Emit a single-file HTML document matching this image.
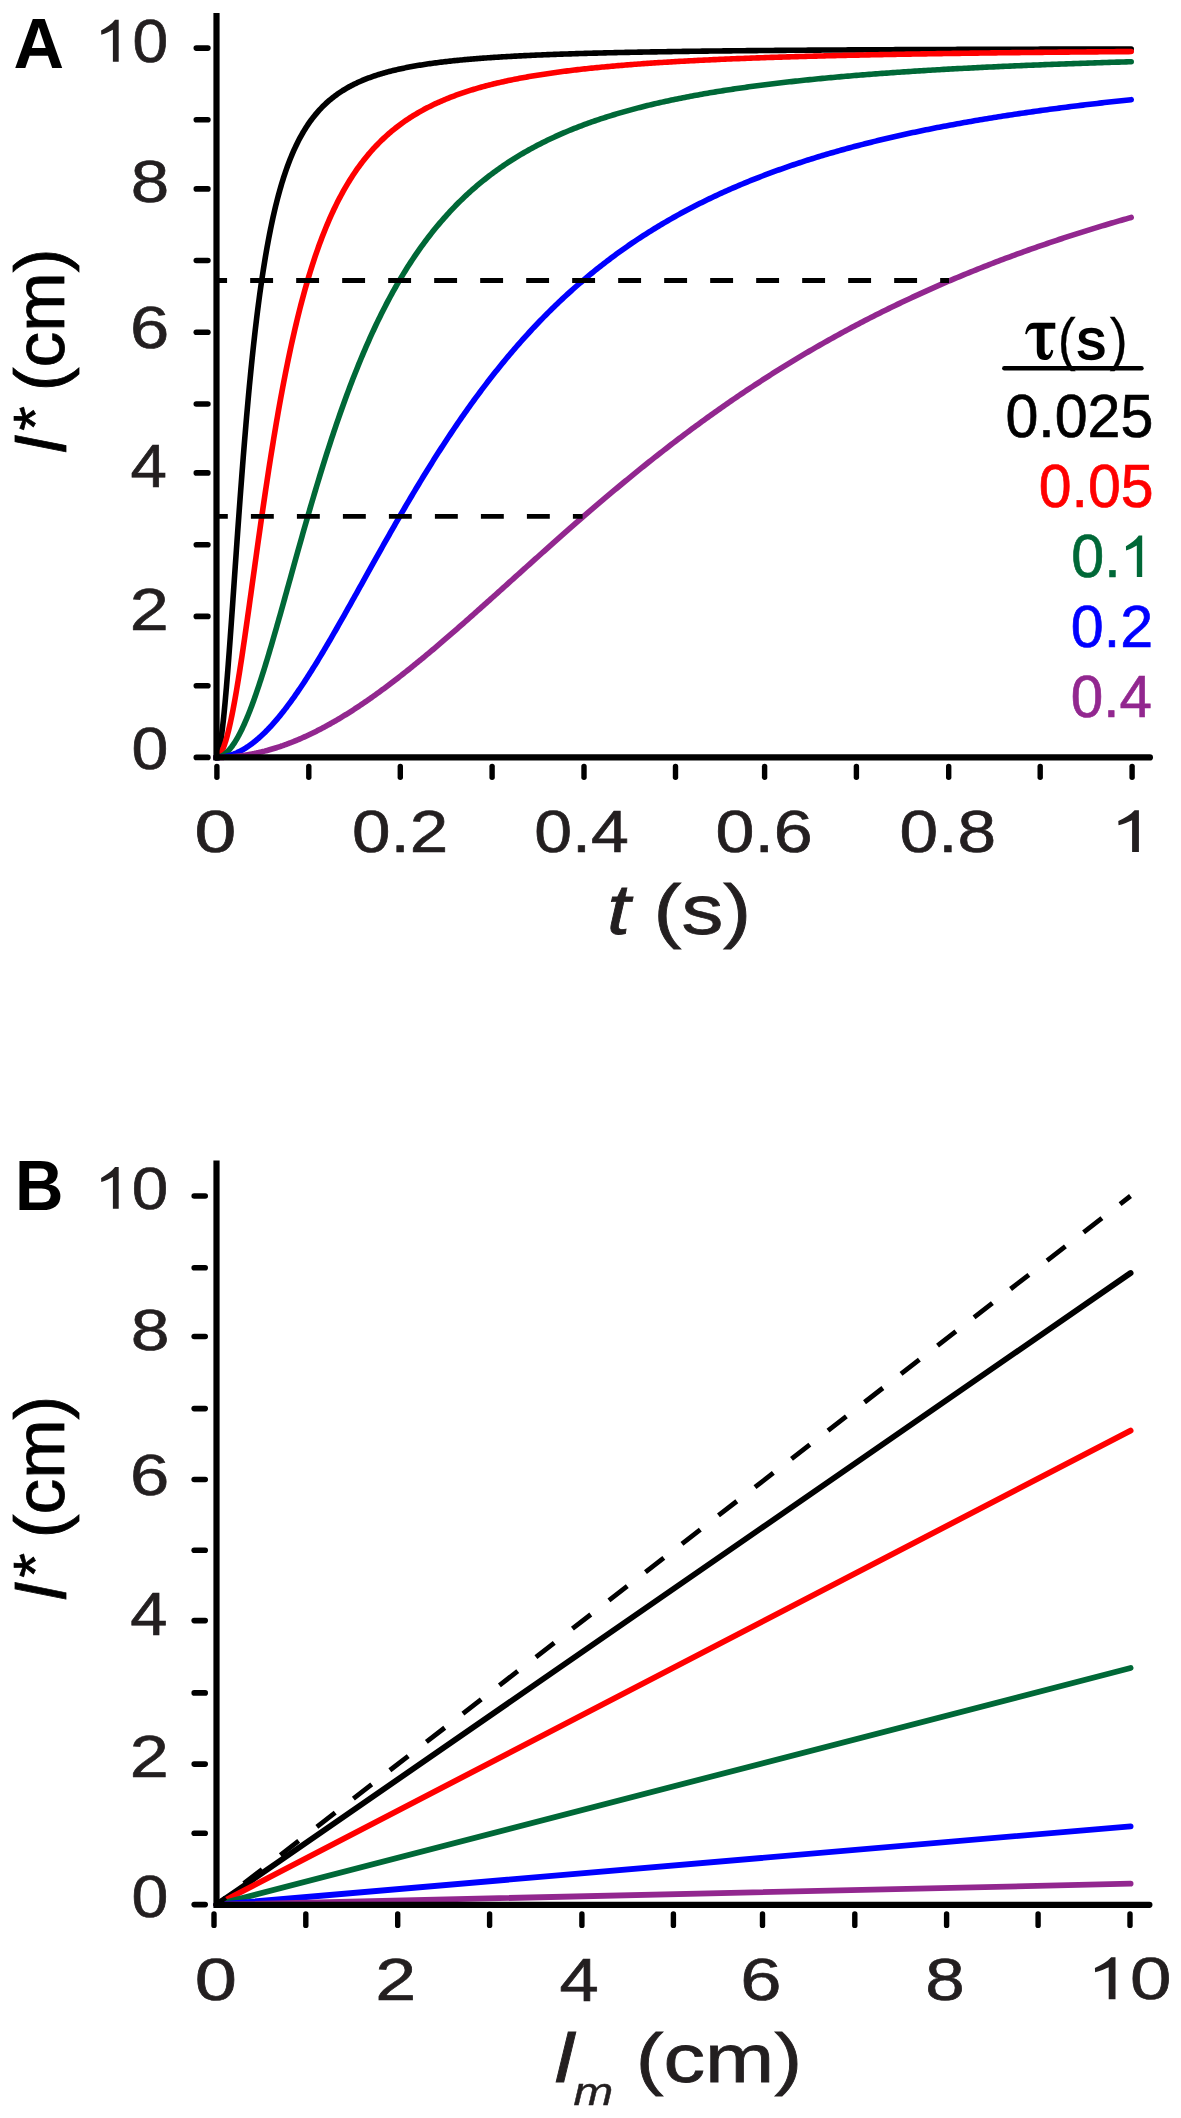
<!DOCTYPE html>
<html><head><meta charset="utf-8"><style>
html,body{margin:0;padding:0;background:#fff;}
svg{display:block;font-family:"Liberation Sans",sans-serif;will-change:transform;}
</style></head><body>
<svg width="1181" height="2118" viewBox="0 0 1181 2118">
<rect width="1181" height="2118" fill="#fff"/>
<polyline points="215.80,757.50 215.83,757.50 215.90,757.49 215.99,757.47 216.10,757.44 216.23,757.37 216.38,757.27 216.54,757.12 216.72,756.92 216.90,756.66 217.11,756.32 217.32,755.90 217.55,755.39 217.79,754.77 218.04,754.05 218.30,753.20 218.57,752.22 218.86,751.10 219.15,749.83 219.45,748.40 219.76,746.80 220.09,745.02 220.42,743.06 220.76,740.91 221.11,738.55 221.47,735.99 221.83,733.21 222.21,730.21 222.59,726.99 222.98,723.53 223.39,719.85 223.79,715.93 224.21,711.77 224.63,707.37 225.07,702.73 225.51,697.86 225.95,692.75 226.41,687.40 226.87,681.82 227.34,676.01 227.82,669.99 228.30,663.74 228.79,657.29 229.29,650.63 229.80,643.78 230.31,636.74 230.83,629.53 231.36,622.15 231.89,614.62 232.43,606.94 232.98,599.13 233.53,591.20 234.09,583.16 234.65,575.02 235.23,566.80 235.81,558.50 236.39,550.14 236.98,541.73 237.58,533.29 238.18,524.82 238.79,516.33 239.41,507.84 240.03,499.36 240.66,490.89 241.30,482.46 241.94,474.06 242.58,465.70 243.23,457.40 243.89,449.16 244.56,441.00 245.23,432.91 245.90,424.90 246.58,416.99 247.27,409.16 247.96,401.44 248.66,393.83 249.36,386.32 250.07,378.93 250.79,371.65 251.51,364.49 252.23,357.45 252.97,350.53 253.70,343.74 254.45,337.07 255.19,330.54 255.95,324.12 256.70,317.84 257.47,311.68 258.24,305.65 259.01,299.75 259.79,293.98 260.57,288.33 261.36,282.80 262.16,277.40 262.96,272.12 263.77,266.96 264.58,261.93 265.39,257.01 266.21,252.20 267.04,247.51 267.87,242.93 268.70,238.47 269.54,234.11 270.39,229.85 271.24,225.71 272.10,221.66 272.96,217.71 273.82,213.87 274.69,210.12 275.57,206.46 276.45,202.89 277.33,199.42 278.22,196.03 279.11,192.73 280.01,189.51 280.92,186.37 281.82,183.31 282.74,180.33 283.65,177.42 284.58,174.59 285.50,171.83 286.44,169.14 287.37,166.52 288.31,163.97 289.26,161.48 290.21,159.05 291.16,156.69 292.12,154.38 293.09,152.13 294.06,149.94 295.03,147.80 296.01,145.72 296.99,143.69 297.97,141.71 298.96,139.78 299.96,137.90 300.96,136.06 301.96,134.27 302.97,132.52 303.98,130.82 305.00,129.16 306.02,127.54 307.05,125.96 308.08,124.41 309.11,122.91 310.15,121.44 311.20,120.01 312.24,118.61 313.30,117.24 314.35,115.91 315.41,114.61 316.48,113.34 317.55,112.10 318.62,110.88 319.70,109.70 320.78,108.55 321.86,107.42 322.95,106.32 324.05,105.24 325.15,104.19 326.25,103.16 327.36,102.16 328.47,101.18 329.58,100.22 330.70,99.28 331.82,98.36 332.95,97.47 334.08,96.59 335.22,95.74 336.36,94.90 337.50,94.08 338.65,93.28 339.80,92.50 340.95,91.73 342.11,90.98 343.28,90.25 344.44,89.53 345.62,88.83 346.79,88.14 347.97,87.47 349.15,86.81 350.34,86.17 351.53,85.54 352.73,84.92 353.93,84.32 355.13,83.73 356.34,83.15 357.55,82.58 358.76,82.03 359.98,81.48 361.20,80.95 362.43,80.43 363.66,79.91 364.89,79.41 366.13,78.92 367.37,78.44 368.62,77.97 369.87,77.51 371.12,77.05 372.38,76.61 373.64,76.17 374.90,75.75 376.17,75.33 377.45,74.92 378.72,74.51 380.00,74.12 381.28,73.73 382.57,73.35 383.86,72.98 385.16,72.61 386.46,72.25 387.76,71.90 389.06,71.55 390.37,71.22 391.69,70.88 393.00,70.56 394.32,70.24 395.65,69.92 396.98,69.61 398.31,69.31 399.64,69.01 400.98,68.72 402.32,68.43 403.67,68.15 405.02,67.87 406.37,67.60 407.73,67.33 409.09,67.07 410.45,66.81 411.82,66.56 413.19,66.31 414.57,66.06 415.95,65.82 417.33,65.59 418.72,65.36 420.10,65.13 421.50,64.90 422.89,64.68 424.29,64.47 425.70,64.25 427.10,64.04 428.51,63.84 429.93,63.63 431.35,63.43 432.77,63.24 434.19,63.05 435.62,62.86 437.05,62.67 438.49,62.49 439.92,62.31 441.37,62.13 442.81,61.95 444.26,61.78 445.71,61.61 447.17,61.45 448.63,61.28 450.09,61.12 451.56,60.96 453.02,60.81 454.50,60.65 455.97,60.50 457.45,60.35 458.94,60.21 460.42,60.06 461.91,59.92 463.41,59.78 464.90,59.64 466.40,59.51 467.91,59.38 469.41,59.24 470.92,59.11 472.44,58.99 473.95,58.86 475.47,58.74 477.00,58.62 478.52,58.50 480.06,58.38 481.59,58.26 483.13,58.15 484.67,58.03 486.21,57.92 487.76,57.81 489.31,57.70 490.86,57.60 492.42,57.49 493.98,57.39 495.54,57.29 497.11,57.18 498.68,57.09 500.25,56.99 501.83,56.89 503.41,56.80 504.99,56.70 506.58,56.61 508.16,56.52 509.76,56.43 511.35,56.34 512.95,56.25 514.55,56.17 516.16,56.08 517.77,56.00 519.38,55.91 521.00,55.83 522.62,55.75 524.24,55.67 525.86,55.59 527.49,55.52 529.12,55.44 530.76,55.37 532.39,55.29 534.03,55.22 535.68,55.15 537.33,55.07 538.98,55.00 540.63,54.93 542.29,54.87 543.95,54.80 545.61,54.73 547.28,54.67 548.95,54.60 550.62,54.54 552.29,54.47 553.97,54.41 555.65,54.35 557.34,54.29 559.03,54.23 560.72,54.17 562.41,54.11 564.11,54.05 565.81,53.99 567.52,53.94 569.22,53.88 570.93,53.83 572.65,53.77 574.36,53.72 576.08,53.67 577.80,53.61 579.53,53.56 581.26,53.51 582.99,53.46 584.72,53.41 586.46,53.36 588.20,53.31 589.94,53.26 591.69,53.22 593.44,53.17 595.19,53.12 596.95,53.08 598.71,53.03 600.47,52.99 602.24,52.94 604.00,52.90 605.78,52.86 607.55,52.81 609.33,52.77 611.11,52.73 612.89,52.69 614.68,52.65 616.47,52.61 618.26,52.57 620.05,52.53 621.85,52.49 623.65,52.45 625.46,52.41 627.26,52.38 629.07,52.34 630.89,52.30 632.70,52.27 634.52,52.23 636.34,52.19 638.17,52.16 640.00,52.12 641.83,52.09 643.66,52.06 645.50,52.02 647.34,51.99 649.18,51.96 651.03,51.92 652.87,51.89 654.73,51.86 656.58,51.83 658.44,51.80 660.30,51.77 662.16,51.74 664.03,51.71 665.90,51.68 667.77,51.65 669.64,51.62 671.52,51.59 673.40,51.56 675.29,51.53 677.17,51.50 679.06,51.48 680.95,51.45 682.85,51.42 684.75,51.40 686.65,51.37 688.55,51.34 690.46,51.32 692.37,51.29 694.28,51.27 696.20,51.24 698.11,51.22 700.04,51.19 701.96,51.17 703.89,51.14 705.82,51.12 707.75,51.10 709.68,51.07 711.62,51.05 713.56,51.03 715.51,51.00 717.45,50.98 719.40,50.96 721.36,50.94 723.31,50.92 725.27,50.89 727.23,50.87 729.19,50.85 731.16,50.83 733.13,50.81 735.10,50.79 737.08,50.77 739.06,50.75 741.04,50.73 743.02,50.71 745.01,50.69 746.99,50.67 748.99,50.65 750.98,50.63 752.98,50.61 754.98,50.60 756.98,50.58 758.99,50.56 761.00,50.54 763.01,50.52 765.02,50.51 767.04,50.49 769.06,50.47 771.08,50.45 773.11,50.44 775.13,50.42 777.16,50.40 779.20,50.39 781.23,50.37 783.27,50.35 785.31,50.34 787.36,50.32 789.41,50.31 791.46,50.29 793.51,50.28 795.56,50.26 797.62,50.24 799.68,50.23 801.75,50.21 803.81,50.20 805.88,50.19 807.95,50.17 810.03,50.16 812.11,50.14 814.19,50.13 816.27,50.11 818.35,50.10 820.44,50.09 822.53,50.07 824.63,50.06 826.72,50.05 828.82,50.03 830.92,50.02 833.03,50.01 835.13,49.99 837.24,49.98 839.36,49.97 841.47,49.96 843.59,49.94 845.71,49.93 847.83,49.92 849.96,49.91 852.09,49.89 854.22,49.88 856.35,49.87 858.49,49.86 860.63,49.85 862.77,49.84 864.91,49.82 867.06,49.81 869.21,49.80 871.36,49.79 873.52,49.78 875.68,49.77 877.84,49.76 880.00,49.75 882.17,49.74 884.33,49.73 886.51,49.72 888.68,49.70 890.86,49.69 893.03,49.68 895.22,49.67 897.40,49.66 899.59,49.65 901.78,49.64 903.97,49.63 906.16,49.62 908.36,49.61 910.56,49.61 912.76,49.60 914.97,49.59 917.18,49.58 919.39,49.57 921.60,49.56 923.81,49.55 926.03,49.54 928.25,49.53 930.48,49.52 932.70,49.51 934.93,49.51 937.16,49.50 939.40,49.49 941.63,49.48 943.87,49.47 946.11,49.46 948.36,49.45 950.60,49.45 952.85,49.44 955.11,49.43 957.36,49.42 959.62,49.41 961.88,49.41 964.14,49.40 966.40,49.39 968.67,49.38 970.94,49.37 973.21,49.37 975.49,49.36 977.76,49.35 980.04,49.34 982.33,49.34 984.61,49.33 986.90,49.32 989.19,49.32 991.48,49.31 993.78,49.30 996.08,49.29 998.38,49.29 1000.68,49.28 1002.99,49.27 1005.29,49.27 1007.60,49.26 1009.92,49.25 1012.23,49.25 1014.55,49.24 1016.87,49.23 1019.19,49.23 1021.52,49.22 1023.85,49.21 1026.18,49.21 1028.51,49.20 1030.85,49.19 1033.19,49.19 1035.53,49.18 1037.87,49.18 1040.22,49.17 1042.57,49.16 1044.92,49.16 1047.27,49.15 1049.63,49.15 1051.98,49.14 1054.34,49.13 1056.71,49.13 1059.07,49.12 1061.44,49.12 1063.81,49.11 1066.19,49.11 1068.56,49.10 1070.94,49.09 1073.32,49.09 1075.70,49.08 1078.09,49.08 1080.48,49.07 1082.87,49.07 1085.26,49.06 1087.66,49.06 1090.06,49.05 1092.46,49.05 1094.86,49.04 1097.27,49.04 1099.67,49.03 1102.08,49.03 1104.50,49.02 1106.91,49.02 1109.33,49.01 1111.75,49.01 1114.17,49.00 1116.60,49.00 1119.03,48.99 1121.46,48.99 1123.89,48.98 1126.32,48.98 1128.76,48.97 1131.20,48.97" fill="none" stroke="#000000" stroke-width="5.6" stroke-linejoin="round" stroke-linecap="round"/>
<polyline points="215.80,757.50 215.83,757.50 215.90,757.50 215.99,757.49 216.10,757.48 216.23,757.47 216.38,757.44 216.54,757.41 216.72,757.36 216.90,757.29 217.11,757.20 217.32,757.10 217.55,756.97 217.79,756.82 218.04,756.63 218.30,756.42 218.57,756.17 218.86,755.89 219.15,755.57 219.45,755.20 219.76,754.79 220.09,754.34 220.42,753.83 220.76,753.28 221.11,752.67 221.47,752.00 221.83,751.27 222.21,750.47 222.59,749.62 222.98,748.69 223.39,747.70 223.79,746.63 224.21,745.49 224.63,744.27 225.07,742.97 225.51,741.59 225.95,740.12 226.41,738.57 226.87,736.93 227.34,735.21 227.82,733.39 228.30,731.48 228.79,729.48 229.29,727.38 229.80,725.18 230.31,722.89 230.83,720.50 231.36,718.01 231.89,715.42 232.43,712.74 232.98,709.95 233.53,707.06 234.09,704.07 234.65,700.98 235.23,697.79 235.81,694.49 236.39,691.10 236.98,687.62 237.58,684.03 238.18,680.35 238.79,676.57 239.41,672.70 240.03,668.74 240.66,664.69 241.30,660.55 241.94,656.32 242.58,652.01 243.23,647.61 243.89,643.14 244.56,638.58 245.23,633.96 245.90,629.26 246.58,624.49 247.27,619.65 247.96,614.75 248.66,609.79 249.36,604.77 250.07,599.70 250.79,594.57 251.51,589.40 252.23,584.18 252.97,578.92 253.70,573.63 254.45,568.29 255.19,562.93 255.95,557.54 256.70,552.12 257.47,546.68 258.24,541.22 259.01,535.75 259.79,530.26 260.57,524.76 261.36,519.26 262.16,513.76 262.96,508.25 263.77,502.75 264.58,497.25 265.39,491.77 266.21,486.29 267.04,480.83 267.87,475.38 268.70,469.95 269.54,464.55 270.39,459.16 271.24,453.81 272.10,448.48 272.96,443.18 273.82,437.91 274.69,432.67 275.57,427.47 276.45,422.31 277.33,417.19 278.22,412.10 279.11,407.06 280.01,402.06 280.92,397.10 281.82,392.19 282.74,387.33 283.65,382.51 284.58,377.74 285.50,373.02 286.44,368.35 287.37,363.73 288.31,359.16 289.26,354.64 290.21,350.17 291.16,345.76 292.12,341.40 293.09,337.09 294.06,332.83 295.03,328.63 296.01,324.49 296.99,320.39 297.97,316.35 298.96,312.36 299.96,308.43 300.96,304.55 301.96,300.73 302.97,296.95 303.98,293.23 305.00,289.57 306.02,285.95 307.05,282.39 308.08,278.88 309.11,275.42 310.15,272.01 311.20,268.66 312.24,265.35 313.30,262.09 314.35,258.89 315.41,255.73 316.48,252.62 317.55,249.56 318.62,246.55 319.70,243.58 320.78,240.66 321.86,237.79 322.95,234.96 324.05,232.18 325.15,229.44 326.25,226.74 327.36,224.09 328.47,221.48 329.58,218.92 330.70,216.39 331.82,213.91 332.95,211.46 334.08,209.06 335.22,206.69 336.36,204.37 337.50,202.08 338.65,199.83 339.80,197.62 340.95,195.44 342.11,193.30 343.28,191.19 344.44,189.12 345.62,187.08 346.79,185.08 347.97,183.11 349.15,181.17 350.34,179.26 351.53,177.39 352.73,175.55 353.93,173.73 355.13,171.95 356.34,170.20 357.55,168.47 358.76,166.78 359.98,165.11 361.20,163.47 362.43,161.85 363.66,160.27 364.89,158.71 366.13,157.17 367.37,155.66 368.62,154.17 369.87,152.71 371.12,151.28 372.38,149.86 373.64,148.47 374.90,147.11 376.17,145.76 377.45,144.44 378.72,143.14 380.00,141.86 381.28,140.60 382.57,139.36 383.86,138.14 385.16,136.94 386.46,135.76 387.76,134.60 389.06,133.45 390.37,132.33 391.69,131.22 393.00,130.13 394.32,129.06 395.65,128.01 396.98,126.97 398.31,125.95 399.64,124.95 400.98,123.96 402.32,122.98 403.67,122.03 405.02,121.08 406.37,120.16 407.73,119.24 409.09,118.34 410.45,117.46 411.82,116.59 413.19,115.73 414.57,114.88 415.95,114.05 417.33,113.23 418.72,112.43 420.10,111.63 421.50,110.85 422.89,110.08 424.29,109.32 425.70,108.58 427.10,107.84 428.51,107.12 429.93,106.41 431.35,105.70 432.77,105.01 434.19,104.33 435.62,103.66 437.05,103.00 438.49,102.35 439.92,101.71 441.37,101.07 442.81,100.45 444.26,99.84 445.71,99.23 447.17,98.64 448.63,98.05 450.09,97.47 451.56,96.90 453.02,96.34 454.50,95.79 455.97,95.24 457.45,94.70 458.94,94.17 460.42,93.65 461.91,93.14 463.41,92.63 464.90,92.13 466.40,91.63 467.91,91.15 469.41,90.67 470.92,90.20 472.44,89.73 473.95,89.27 475.47,88.82 477.00,88.37 478.52,87.93 480.06,87.50 481.59,87.07 483.13,86.64 484.67,86.23 486.21,85.82 487.76,85.41 489.31,85.01 490.86,84.62 492.42,84.23 493.98,83.84 495.54,83.47 497.11,83.09 498.68,82.72 500.25,82.36 501.83,82.00 503.41,81.65 504.99,81.30 506.58,80.95 508.16,80.61 509.76,80.28 511.35,79.95 512.95,79.62 514.55,79.30 516.16,78.98 517.77,78.67 519.38,78.36 521.00,78.05 522.62,77.75 524.24,77.45 525.86,77.16 527.49,76.87 529.12,76.58 530.76,76.30 532.39,76.02 534.03,75.74 535.68,75.47 537.33,75.20 538.98,74.93 540.63,74.67 542.29,74.41 543.95,74.16 545.61,73.90 547.28,73.65 548.95,73.41 550.62,73.17 552.29,72.92 553.97,72.69 555.65,72.45 557.34,72.22 559.03,71.99 560.72,71.77 562.41,71.54 564.11,71.32 565.81,71.11 567.52,70.89 569.22,70.68 570.93,70.47 572.65,70.26 574.36,70.05 576.08,69.85 577.80,69.65 579.53,69.45 581.26,69.26 582.99,69.07 584.72,68.87 586.46,68.69 588.20,68.50 589.94,68.32 591.69,68.13 593.44,67.95 595.19,67.77 596.95,67.60 598.71,67.43 600.47,67.25 602.24,67.08 604.00,66.92 605.78,66.75 607.55,66.59 609.33,66.42 611.11,66.26 612.89,66.10 614.68,65.95 616.47,65.79 618.26,65.64 620.05,65.49 621.85,65.34 623.65,65.19 625.46,65.04 627.26,64.90 629.07,64.75 630.89,64.61 632.70,64.47 634.52,64.33 636.34,64.20 638.17,64.06 640.00,63.93 641.83,63.79 643.66,63.66 645.50,63.53 647.34,63.40 649.18,63.28 651.03,63.15 652.87,63.03 654.73,62.90 656.58,62.78 658.44,62.66 660.30,62.54 662.16,62.42 664.03,62.31 665.90,62.19 667.77,62.08 669.64,61.97 671.52,61.85 673.40,61.74 675.29,61.63 677.17,61.52 679.06,61.42 680.95,61.31 682.85,61.21 684.75,61.10 686.65,61.00 688.55,60.90 690.46,60.80 692.37,60.70 694.28,60.60 696.20,60.50 698.11,60.40 700.04,60.31 701.96,60.21 703.89,60.12 705.82,60.03 707.75,59.93 709.68,59.84 711.62,59.75 713.56,59.66 715.51,59.58 717.45,59.49 719.40,59.40 721.36,59.32 723.31,59.23 725.27,59.15 727.23,59.06 729.19,58.98 731.16,58.90 733.13,58.82 735.10,58.74 737.08,58.66 739.06,58.58 741.04,58.50 743.02,58.43 745.01,58.35 746.99,58.27 748.99,58.20 750.98,58.13 752.98,58.05 754.98,57.98 756.98,57.91 758.99,57.84 761.00,57.77 763.01,57.70 765.02,57.63 767.04,57.56 769.06,57.49 771.08,57.42 773.11,57.36 775.13,57.29 777.16,57.22 779.20,57.16 781.23,57.10 783.27,57.03 785.31,56.97 787.36,56.91 789.41,56.84 791.46,56.78 793.51,56.72 795.56,56.66 797.62,56.60 799.68,56.54 801.75,56.48 803.81,56.43 805.88,56.37 807.95,56.31 810.03,56.25 812.11,56.20 814.19,56.14 816.27,56.09 818.35,56.03 820.44,55.98 822.53,55.93 824.63,55.87 826.72,55.82 828.82,55.77 830.92,55.72 833.03,55.66 835.13,55.61 837.24,55.56 839.36,55.51 841.47,55.46 843.59,55.41 845.71,55.37 847.83,55.32 849.96,55.27 852.09,55.22 854.22,55.18 856.35,55.13 858.49,55.08 860.63,55.04 862.77,54.99 864.91,54.95 867.06,54.90 869.21,54.86 871.36,54.81 873.52,54.77 875.68,54.73 877.84,54.68 880.00,54.64 882.17,54.60 884.33,54.56 886.51,54.52 888.68,54.48 890.86,54.43 893.03,54.39 895.22,54.35 897.40,54.31 899.59,54.28 901.78,54.24 903.97,54.20 906.16,54.16 908.36,54.12 910.56,54.08 912.76,54.05 914.97,54.01 917.18,53.97 919.39,53.94 921.60,53.90 923.81,53.86 926.03,53.83 928.25,53.79 930.48,53.76 932.70,53.72 934.93,53.69 937.16,53.65 939.40,53.62 941.63,53.59 943.87,53.55 946.11,53.52 948.36,53.49 950.60,53.45 952.85,53.42 955.11,53.39 957.36,53.36 959.62,53.33 961.88,53.29 964.14,53.26 966.40,53.23 968.67,53.20 970.94,53.17 973.21,53.14 975.49,53.11 977.76,53.08 980.04,53.05 982.33,53.02 984.61,52.99 986.90,52.97 989.19,52.94 991.48,52.91 993.78,52.88 996.08,52.85 998.38,52.82 1000.68,52.80 1002.99,52.77 1005.29,52.74 1007.60,52.72 1009.92,52.69 1012.23,52.66 1014.55,52.64 1016.87,52.61 1019.19,52.58 1021.52,52.56 1023.85,52.53 1026.18,52.51 1028.51,52.48 1030.85,52.46 1033.19,52.43 1035.53,52.41 1037.87,52.38 1040.22,52.36 1042.57,52.34 1044.92,52.31 1047.27,52.29 1049.63,52.26 1051.98,52.24 1054.34,52.22 1056.71,52.20 1059.07,52.17 1061.44,52.15 1063.81,52.13 1066.19,52.11 1068.56,52.08 1070.94,52.06 1073.32,52.04 1075.70,52.02 1078.09,52.00 1080.48,51.97 1082.87,51.95 1085.26,51.93 1087.66,51.91 1090.06,51.89 1092.46,51.87 1094.86,51.85 1097.27,51.83 1099.67,51.81 1102.08,51.79 1104.50,51.77 1106.91,51.75 1109.33,51.73 1111.75,51.71 1114.17,51.69 1116.60,51.67 1119.03,51.65 1121.46,51.63 1123.89,51.61 1126.32,51.60 1128.76,51.58 1131.20,51.56" fill="none" stroke="#ff0000" stroke-width="5.6" stroke-linejoin="round" stroke-linecap="round"/>
<polyline points="215.80,757.50 215.83,757.50 215.90,757.50 215.99,757.50 216.10,757.50 216.23,757.49 216.38,757.49 216.54,757.48 216.72,757.46 216.90,757.45 217.11,757.43 217.32,757.40 217.55,757.37 217.79,757.33 218.04,757.28 218.30,757.23 218.57,757.17 218.86,757.10 219.15,757.02 219.45,756.92 219.76,756.82 220.09,756.71 220.42,756.58 220.76,756.44 221.11,756.29 221.47,756.12 221.83,755.93 222.21,755.73 222.59,755.51 222.98,755.28 223.39,755.02 223.79,754.75 224.21,754.46 224.63,754.14 225.07,753.81 225.51,753.45 225.95,753.07 226.41,752.67 226.87,752.24 227.34,751.79 227.82,751.31 228.30,750.81 228.79,750.28 229.29,749.72 229.80,749.14 230.31,748.52 230.83,747.87 231.36,747.20 231.89,746.49 232.43,745.75 232.98,744.98 233.53,744.18 234.09,743.34 234.65,742.47 235.23,741.57 235.81,740.62 236.39,739.65 236.98,738.64 237.58,737.59 238.18,736.50 238.79,735.38 239.41,734.21 240.03,733.01 240.66,731.77 241.30,730.49 241.94,729.17 242.58,727.82 243.23,726.42 243.89,724.98 244.56,723.50 245.23,721.97 245.90,720.41 246.58,718.80 247.27,717.16 247.96,715.47 248.66,713.74 249.36,711.97 250.07,710.15 250.79,708.29 251.51,706.39 252.23,704.45 252.97,702.47 253.70,700.44 254.45,698.37 255.19,696.26 255.95,694.11 256.70,691.91 257.47,689.68 258.24,687.40 259.01,685.08 259.79,682.73 260.57,680.33 261.36,677.89 262.16,675.41 262.96,672.89 263.77,670.34 264.58,667.74 265.39,665.11 266.21,662.44 267.04,659.73 267.87,656.99 268.70,654.21 269.54,651.40 270.39,648.55 271.24,645.67 272.10,642.76 272.96,639.81 273.82,636.83 274.69,633.82 275.57,630.78 276.45,627.71 277.33,624.61 278.22,621.48 279.11,618.33 280.01,615.14 280.92,611.94 281.82,608.71 282.74,605.45 283.65,602.17 284.58,598.87 285.50,595.55 286.44,592.21 287.37,588.84 288.31,585.46 289.26,582.06 290.21,578.65 291.16,575.21 292.12,571.77 293.09,568.31 294.06,564.83 295.03,561.34 296.01,557.84 296.99,554.34 297.97,550.82 298.96,547.29 299.96,543.75 300.96,540.21 301.96,536.66 302.97,533.10 303.98,529.54 305.00,525.98 306.02,522.41 307.05,518.85 308.08,515.28 309.11,511.71 310.15,508.14 311.20,504.57 312.24,501.00 313.30,497.44 314.35,493.88 315.41,490.33 316.48,486.77 317.55,483.23 318.62,479.69 319.70,476.16 320.78,472.64 321.86,469.12 322.95,465.62 324.05,462.12 325.15,458.63 326.25,455.16 327.36,451.69 328.47,448.24 329.58,444.80 330.70,441.38 331.82,437.96 332.95,434.56 334.08,431.18 335.22,427.81 336.36,424.46 337.50,421.12 338.65,417.80 339.80,414.49 340.95,411.21 342.11,407.94 343.28,404.69 344.44,401.45 345.62,398.24 346.79,395.04 347.97,391.86 349.15,388.71 350.34,385.57 351.53,382.45 352.73,379.35 353.93,376.27 355.13,373.22 356.34,370.18 357.55,367.17 358.76,364.17 359.98,361.20 361.20,358.25 362.43,355.32 363.66,352.41 364.89,349.53 366.13,346.67 367.37,343.83 368.62,341.01 369.87,338.21 371.12,335.44 372.38,332.68 373.64,329.96 374.90,327.25 376.17,324.56 377.45,321.90 378.72,319.26 380.00,316.65 381.28,314.05 382.57,311.48 383.86,308.93 385.16,306.41 386.46,303.90 387.76,301.42 389.06,298.96 390.37,296.53 391.69,294.11 393.00,291.72 394.32,289.35 395.65,287.00 396.98,284.68 398.31,282.38 399.64,280.09 400.98,277.83 402.32,275.60 403.67,273.38 405.02,271.18 406.37,269.01 407.73,266.86 409.09,264.72 410.45,262.61 411.82,260.52 413.19,258.45 414.57,256.41 415.95,254.38 417.33,252.37 418.72,250.38 420.10,248.41 421.50,246.47 422.89,244.54 424.29,242.63 425.70,240.74 427.10,238.87 428.51,237.02 429.93,235.19 431.35,233.38 432.77,231.59 434.19,229.81 435.62,228.06 437.05,226.32 438.49,224.60 439.92,222.90 441.37,221.21 442.81,219.55 444.26,217.90 445.71,216.27 447.17,214.65 448.63,213.06 450.09,211.47 451.56,209.91 453.02,208.36 454.50,206.83 455.97,205.32 457.45,203.82 458.94,202.34 460.42,200.87 461.91,199.42 463.41,197.99 464.90,196.57 466.40,195.16 467.91,193.77 469.41,192.40 470.92,191.04 472.44,189.69 473.95,188.36 475.47,187.04 477.00,185.74 478.52,184.45 480.06,183.18 481.59,181.92 483.13,180.67 484.67,179.44 486.21,178.21 487.76,177.01 489.31,175.81 490.86,174.63 492.42,173.46 493.98,172.30 495.54,171.16 497.11,170.03 498.68,168.91 500.25,167.80 501.83,166.71 503.41,165.62 504.99,164.55 506.58,163.49 508.16,162.44 509.76,161.40 511.35,160.37 512.95,159.36 514.55,158.35 516.16,157.36 517.77,156.37 519.38,155.40 521.00,154.44 522.62,153.48 524.24,152.54 525.86,151.61 527.49,150.69 529.12,149.77 530.76,148.87 532.39,147.98 534.03,147.09 535.68,146.22 537.33,145.35 538.98,144.50 540.63,143.65 542.29,142.81 543.95,141.98 545.61,141.16 547.28,140.35 548.95,139.55 550.62,138.75 552.29,137.96 553.97,137.19 555.65,136.42 557.34,135.65 559.03,134.90 560.72,134.15 562.41,133.42 564.11,132.69 565.81,131.96 567.52,131.25 569.22,130.54 570.93,129.84 572.65,129.14 574.36,128.46 576.08,127.78 577.80,127.11 579.53,126.44 581.26,125.78 582.99,125.13 584.72,124.49 586.46,123.85 588.20,123.22 589.94,122.59 591.69,121.97 593.44,121.36 595.19,120.75 596.95,120.15 598.71,119.56 600.47,118.97 602.24,118.39 604.00,117.81 605.78,117.24 607.55,116.68 609.33,116.12 611.11,115.57 612.89,115.02 614.68,114.48 616.47,113.94 618.26,113.41 620.05,112.88 621.85,112.36 623.65,111.85 625.46,111.34 627.26,110.83 629.07,110.33 630.89,109.84 632.70,109.35 634.52,108.86 636.34,108.38 638.17,107.90 640.00,107.43 641.83,106.97 643.66,106.50 645.50,106.05 647.34,105.59 649.18,105.15 651.03,104.70 652.87,104.26 654.73,103.83 656.58,103.39 658.44,102.97 660.30,102.54 662.16,102.12 664.03,101.71 665.90,101.30 667.77,100.89 669.64,100.49 671.52,100.09 673.40,99.69 675.29,99.30 677.17,98.91 679.06,98.53 680.95,98.15 682.85,97.77 684.75,97.40 686.65,97.03 688.55,96.66 690.46,96.30 692.37,95.94 694.28,95.58 696.20,95.23 698.11,94.88 700.04,94.54 701.96,94.19 703.89,93.85 705.82,93.52 707.75,93.18 709.68,92.85 711.62,92.53 713.56,92.20 715.51,91.88 717.45,91.56 719.40,91.25 721.36,90.93 723.31,90.62 725.27,90.32 727.23,90.01 729.19,89.71 731.16,89.41 733.13,89.12 735.10,88.82 737.08,88.53 739.06,88.25 741.04,87.96 743.02,87.68 745.01,87.40 746.99,87.12 748.99,86.85 750.98,86.57 752.98,86.30 754.98,86.03 756.98,85.77 758.99,85.51 761.00,85.25 763.01,84.99 765.02,84.73 767.04,84.48 769.06,84.23 771.08,83.98 773.11,83.73 775.13,83.48 777.16,83.24 779.20,83.00 781.23,82.76 783.27,82.53 785.31,82.29 787.36,82.06 789.41,81.83 791.46,81.60 793.51,81.37 795.56,81.15 797.62,80.93 799.68,80.70 801.75,80.49 803.81,80.27 805.88,80.05 807.95,79.84 810.03,79.63 812.11,79.42 814.19,79.21 816.27,79.01 818.35,78.80 820.44,78.60 822.53,78.40 824.63,78.20 826.72,78.00 828.82,77.81 830.92,77.61 833.03,77.42 835.13,77.23 837.24,77.04 839.36,76.85 841.47,76.66 843.59,76.48 845.71,76.30 847.83,76.11 849.96,75.93 852.09,75.76 854.22,75.58 856.35,75.40 858.49,75.23 860.63,75.06 862.77,74.88 864.91,74.71 867.06,74.55 869.21,74.38 871.36,74.21 873.52,74.05 875.68,73.88 877.84,73.72 880.00,73.56 882.17,73.40 884.33,73.24 886.51,73.09 888.68,72.93 890.86,72.78 893.03,72.63 895.22,72.47 897.40,72.32 899.59,72.17 901.78,72.02 903.97,71.88 906.16,71.73 908.36,71.59 910.56,71.44 912.76,71.30 914.97,71.16 917.18,71.02 919.39,70.88 921.60,70.74 923.81,70.61 926.03,70.47 928.25,70.33 930.48,70.20 932.70,70.07 934.93,69.94 937.16,69.81 939.40,69.68 941.63,69.55 943.87,69.42 946.11,69.29 948.36,69.17 950.60,69.04 952.85,68.92 955.11,68.79 957.36,68.67 959.62,68.55 961.88,68.43 964.14,68.31 966.40,68.19 968.67,68.08 970.94,67.96 973.21,67.84 975.49,67.73 977.76,67.62 980.04,67.50 982.33,67.39 984.61,67.28 986.90,67.17 989.19,67.06 991.48,66.95 993.78,66.84 996.08,66.73 998.38,66.63 1000.68,66.52 1002.99,66.42 1005.29,66.31 1007.60,66.21 1009.92,66.11 1012.23,66.00 1014.55,65.90 1016.87,65.80 1019.19,65.70 1021.52,65.60 1023.85,65.51 1026.18,65.41 1028.51,65.31 1030.85,65.22 1033.19,65.12 1035.53,65.03 1037.87,64.93 1040.22,64.84 1042.57,64.75 1044.92,64.65 1047.27,64.56 1049.63,64.47 1051.98,64.38 1054.34,64.29 1056.71,64.20 1059.07,64.11 1061.44,64.03 1063.81,63.94 1066.19,63.85 1068.56,63.77 1070.94,63.68 1073.32,63.60 1075.70,63.51 1078.09,63.43 1080.48,63.35 1082.87,63.27 1085.26,63.18 1087.66,63.10 1090.06,63.02 1092.46,62.94 1094.86,62.86 1097.27,62.79 1099.67,62.71 1102.08,62.63 1104.50,62.55 1106.91,62.48 1109.33,62.40 1111.75,62.32 1114.17,62.25 1116.60,62.17 1119.03,62.10 1121.46,62.03 1123.89,61.95 1126.32,61.88 1128.76,61.81 1131.20,61.74" fill="none" stroke="#006837" stroke-width="5.6" stroke-linejoin="round" stroke-linecap="round"/>
<polyline points="215.80,757.50 215.83,757.50 215.90,757.50 215.99,757.50 216.10,757.50 216.23,757.50 216.38,757.50 216.54,757.49 216.72,757.49 216.90,757.49 217.11,757.48 217.32,757.47 217.55,757.47 217.79,757.46 218.04,757.45 218.30,757.43 218.57,757.42 218.86,757.40 219.15,757.38 219.45,757.36 219.76,757.33 220.09,757.30 220.42,757.27 220.76,757.23 221.11,757.20 221.47,757.15 221.83,757.11 222.21,757.06 222.59,757.00 222.98,756.94 223.39,756.88 223.79,756.81 224.21,756.74 224.63,756.66 225.07,756.57 225.51,756.48 225.95,756.39 226.41,756.29 226.87,756.18 227.34,756.06 227.82,755.94 228.30,755.82 228.79,755.68 229.29,755.54 229.80,755.39 230.31,755.23 230.83,755.07 231.36,754.90 231.89,754.72 232.43,754.53 232.98,754.33 233.53,754.12 234.09,753.91 234.65,753.68 235.23,753.45 235.81,753.20 236.39,752.95 236.98,752.69 237.58,752.41 238.18,752.13 238.79,751.84 239.41,751.53 240.03,751.22 240.66,750.89 241.30,750.55 241.94,750.20 242.58,749.84 243.23,749.47 243.89,749.08 244.56,748.68 245.23,748.27 245.90,747.85 246.58,747.41 247.27,746.97 247.96,746.50 248.66,746.03 249.36,745.54 250.07,745.04 250.79,744.52 251.51,743.99 252.23,743.45 252.97,742.89 253.70,742.32 254.45,741.73 255.19,741.13 255.95,740.51 256.70,739.88 257.47,739.23 258.24,738.57 259.01,737.89 259.79,737.20 260.57,736.49 261.36,735.77 262.16,735.03 262.96,734.27 263.77,733.50 264.58,732.71 265.39,731.90 266.21,731.08 267.04,730.24 267.87,729.39 268.70,728.51 269.54,727.62 270.39,726.72 271.24,725.79 272.10,724.85 272.96,723.90 273.82,722.92 274.69,721.93 275.57,720.92 276.45,719.89 277.33,718.85 278.22,717.78 279.11,716.70 280.01,715.61 280.92,714.49 281.82,713.36 282.74,712.21 283.65,711.04 284.58,709.85 285.50,708.65 286.44,707.43 287.37,706.19 288.31,704.93 289.26,703.65 290.21,702.36 291.16,701.05 292.12,699.72 293.09,698.38 294.06,697.01 295.03,695.63 296.01,694.23 296.99,692.81 297.97,691.38 298.96,689.93 299.96,688.46 300.96,686.98 301.96,685.47 302.97,683.95 303.98,682.42 305.00,680.86 306.02,679.29 307.05,677.70 308.08,676.10 309.11,674.48 310.15,672.84 311.20,671.19 312.24,669.52 313.30,667.83 314.35,666.13 315.41,664.41 316.48,662.68 317.55,660.93 318.62,659.17 319.70,657.39 320.78,655.59 321.86,653.78 322.95,651.96 324.05,650.12 325.15,648.27 326.25,646.40 327.36,644.52 328.47,642.63 329.58,640.72 330.70,638.80 331.82,636.86 332.95,634.91 334.08,632.95 335.22,630.98 336.36,628.99 337.50,626.99 338.65,624.98 339.80,622.96 340.95,620.93 342.11,618.88 343.28,616.82 344.44,614.76 345.62,612.68 346.79,610.59 347.97,608.49 349.15,606.38 350.34,604.26 351.53,602.13 352.73,599.99 353.93,597.85 355.13,595.69 356.34,593.53 357.55,591.35 358.76,589.17 359.98,586.98 361.20,584.78 362.43,582.58 363.66,580.37 364.89,578.15 366.13,575.93 367.37,573.69 368.62,571.46 369.87,569.21 371.12,566.96 372.38,564.71 373.64,562.45 374.90,560.18 376.17,557.91 377.45,555.64 378.72,553.36 380.00,551.08 381.28,548.79 382.57,546.50 383.86,544.21 385.16,541.91 386.46,539.61 387.76,537.31 389.06,535.01 390.37,532.70 391.69,530.39 393.00,528.08 394.32,525.77 395.65,523.46 396.98,521.15 398.31,518.83 399.64,516.52 400.98,514.20 402.32,511.89 403.67,509.57 405.02,507.26 406.37,504.95 407.73,502.63 409.09,500.32 410.45,498.01 411.82,495.70 413.19,493.39 414.57,491.09 415.95,488.79 417.33,486.48 418.72,484.19 420.10,481.89 421.50,479.60 422.89,477.31 424.29,475.02 425.70,472.73 427.10,470.45 428.51,468.18 429.93,465.90 431.35,463.64 432.77,461.37 434.19,459.11 435.62,456.85 437.05,454.60 438.49,452.36 439.92,450.12 441.37,447.88 442.81,445.65 444.26,443.42 445.71,441.20 447.17,438.99 448.63,436.78 450.09,434.58 451.56,432.38 453.02,430.19 454.50,428.01 455.97,425.83 457.45,423.66 458.94,421.50 460.42,419.34 461.91,417.19 463.41,415.05 464.90,412.92 466.40,410.79 467.91,408.67 469.41,406.55 470.92,404.45 472.44,402.35 473.95,400.26 475.47,398.18 477.00,396.10 478.52,394.04 480.06,391.98 481.59,389.93 483.13,387.89 484.67,385.85 486.21,383.83 487.76,381.81 489.31,379.80 490.86,377.80 492.42,375.81 493.98,373.83 495.54,371.85 497.11,369.89 498.68,367.93 500.25,365.99 501.83,364.05 503.41,362.12 504.99,360.20 506.58,358.29 508.16,356.39 509.76,354.49 511.35,352.61 512.95,350.74 514.55,348.87 516.16,347.02 517.77,345.17 519.38,343.33 521.00,341.50 522.62,339.69 524.24,337.88 525.86,336.08 527.49,334.29 529.12,332.51 530.76,330.74 532.39,328.97 534.03,327.22 535.68,325.48 537.33,323.74 538.98,322.02 540.63,320.31 542.29,318.60 543.95,316.91 545.61,315.22 547.28,313.54 548.95,311.88 550.62,310.22 552.29,308.57 553.97,306.93 555.65,305.30 557.34,303.68 559.03,302.07 560.72,300.47 562.41,298.88 564.11,297.30 565.81,295.73 567.52,294.17 569.22,292.61 570.93,291.07 572.65,289.53 574.36,288.01 576.08,286.49 577.80,284.98 579.53,283.48 581.26,282.00 582.99,280.52 584.72,279.05 586.46,277.58 588.20,276.13 589.94,274.69 591.69,273.25 593.44,271.83 595.19,270.41 596.95,269.01 598.71,267.61 600.47,266.22 602.24,264.84 604.00,263.46 605.78,262.10 607.55,260.75 609.33,259.40 611.11,258.07 612.89,256.74 614.68,255.42 616.47,254.11 618.26,252.80 620.05,251.51 621.85,250.23 623.65,248.95 625.46,247.68 627.26,246.42 629.07,245.17 630.89,243.92 632.70,242.69 634.52,241.46 636.34,240.24 638.17,239.03 640.00,237.83 641.83,236.63 643.66,235.45 645.50,234.27 647.34,233.10 649.18,231.93 651.03,230.78 652.87,229.63 654.73,228.49 656.58,227.36 658.44,226.24 660.30,225.12 662.16,224.01 664.03,222.91 665.90,221.81 667.77,220.73 669.64,219.65 671.52,218.58 673.40,217.51 675.29,216.46 677.17,215.41 679.06,214.36 680.95,213.33 682.85,212.30 684.75,211.28 686.65,210.26 688.55,209.26 690.46,208.25 692.37,207.26 694.28,206.27 696.20,205.29 698.11,204.32 700.04,203.36 701.96,202.40 703.89,201.44 705.82,200.50 707.75,199.56 709.68,198.62 711.62,197.70 713.56,196.78 715.51,195.86 717.45,194.95 719.40,194.05 721.36,193.16 723.31,192.27 725.27,191.39 727.23,190.51 729.19,189.64 731.16,188.78 733.13,187.92 735.10,187.06 737.08,186.22 739.06,185.38 741.04,184.54 743.02,183.71 745.01,182.89 746.99,182.07 748.99,181.26 750.98,180.46 752.98,179.66 754.98,178.86 756.98,178.07 758.99,177.29 761.00,176.51 763.01,175.74 765.02,174.97 767.04,174.21 769.06,173.45 771.08,172.70 773.11,171.95 775.13,171.21 777.16,170.48 779.20,169.75 781.23,169.02 783.27,168.30 785.31,167.59 787.36,166.88 789.41,166.17 791.46,165.47 793.51,164.77 795.56,164.08 797.62,163.40 799.68,162.72 801.75,162.04 803.81,161.37 805.88,160.70 807.95,160.04 810.03,159.38 812.11,158.73 814.19,158.08 816.27,157.43 818.35,156.79 820.44,156.16 822.53,155.53 824.63,154.90 826.72,154.28 828.82,153.66 830.92,153.05 833.03,152.44 835.13,151.83 837.24,151.23 839.36,150.64 841.47,150.04 843.59,149.45 845.71,148.87 847.83,148.29 849.96,147.71 852.09,147.14 854.22,146.57 856.35,146.01 858.49,145.45 860.63,144.89 862.77,144.34 864.91,143.79 867.06,143.24 869.21,142.70 871.36,142.16 873.52,141.63 875.68,141.10 877.84,140.57 880.00,140.05 882.17,139.53 884.33,139.01 886.51,138.50 888.68,137.99 890.86,137.48 893.03,136.98 895.22,136.48 897.40,135.99 899.59,135.50 901.78,135.01 903.97,134.52 906.16,134.04 908.36,133.56 910.56,133.08 912.76,132.61 914.97,132.14 917.18,131.68 919.39,131.21 921.60,130.75 923.81,130.30 926.03,129.84 928.25,129.39 930.48,128.95 932.70,128.50 934.93,128.06 937.16,127.62 939.40,127.19 941.63,126.75 943.87,126.32 946.11,125.90 948.36,125.47 950.60,125.05 952.85,124.63 955.11,124.22 957.36,123.81 959.62,123.40 961.88,122.99 964.14,122.58 966.40,122.18 968.67,121.78 970.94,121.39 973.21,120.99 975.49,120.60 977.76,120.21 980.04,119.83 982.33,119.44 984.61,119.06 986.90,118.68 989.19,118.31 991.48,117.93 993.78,117.56 996.08,117.19 998.38,116.83 1000.68,116.46 1002.99,116.10 1005.29,115.74 1007.60,115.38 1009.92,115.03 1012.23,114.68 1014.55,114.33 1016.87,113.98 1019.19,113.64 1021.52,113.29 1023.85,112.95 1026.18,112.61 1028.51,112.28 1030.85,111.94 1033.19,111.61 1035.53,111.28 1037.87,110.95 1040.22,110.63 1042.57,110.30 1044.92,109.98 1047.27,109.66 1049.63,109.34 1051.98,109.03 1054.34,108.72 1056.71,108.40 1059.07,108.10 1061.44,107.79 1063.81,107.48 1066.19,107.18 1068.56,106.88 1070.94,106.58 1073.32,106.28 1075.70,105.98 1078.09,105.69 1080.48,105.40 1082.87,105.11 1085.26,104.82 1087.66,104.53 1090.06,104.25 1092.46,103.97 1094.86,103.68 1097.27,103.41 1099.67,103.13 1102.08,102.85 1104.50,102.58 1106.91,102.31 1109.33,102.03 1111.75,101.77 1114.17,101.50 1116.60,101.23 1119.03,100.97 1121.46,100.71 1123.89,100.45 1126.32,100.19 1128.76,99.93 1131.20,99.67" fill="none" stroke="#0000ff" stroke-width="5.6" stroke-linejoin="round" stroke-linecap="round"/>
<polyline points="215.80,757.50 215.83,757.50 215.90,757.50 215.99,757.50 216.10,757.50 216.23,757.50 216.38,757.50 216.54,757.50 216.72,757.50 216.90,757.50 217.11,757.50 217.32,757.49 217.55,757.49 217.79,757.49 218.04,757.49 218.30,757.48 218.57,757.48 218.86,757.47 219.15,757.47 219.45,757.46 219.76,757.46 220.09,757.45 220.42,757.44 220.76,757.43 221.11,757.42 221.47,757.41 221.83,757.40 222.21,757.39 222.59,757.38 222.98,757.36 223.39,757.34 223.79,757.33 224.21,757.31 224.63,757.29 225.07,757.27 225.51,757.25 225.95,757.22 226.41,757.20 226.87,757.17 227.34,757.14 227.82,757.11 228.30,757.08 228.79,757.04 229.29,757.01 229.80,756.97 230.31,756.93 230.83,756.89 231.36,756.85 231.89,756.80 232.43,756.75 232.98,756.70 233.53,756.65 234.09,756.60 234.65,756.54 235.23,756.48 235.81,756.42 236.39,756.36 236.98,756.29 237.58,756.22 238.18,756.15 238.79,756.08 239.41,756.00 240.03,755.92 240.66,755.84 241.30,755.75 241.94,755.66 242.58,755.57 243.23,755.47 243.89,755.38 244.56,755.27 245.23,755.17 245.90,755.06 246.58,754.95 247.27,754.84 247.96,754.72 248.66,754.60 249.36,754.47 250.07,754.34 250.79,754.21 251.51,754.07 252.23,753.93 252.97,753.79 253.70,753.64 254.45,753.49 255.19,753.34 255.95,753.18 256.70,753.01 257.47,752.84 258.24,752.67 259.01,752.49 259.79,752.31 260.57,752.13 261.36,751.94 262.16,751.75 262.96,751.55 263.77,751.34 264.58,751.14 265.39,750.92 266.21,750.71 267.04,750.48 267.87,750.26 268.70,750.02 269.54,749.79 270.39,749.55 271.24,749.30 272.10,749.05 272.96,748.79 273.82,748.53 274.69,748.26 275.57,747.99 276.45,747.71 277.33,747.42 278.22,747.14 279.11,746.84 280.01,746.54 280.92,746.24 281.82,745.92 282.74,745.61 283.65,745.28 284.58,744.96 285.50,744.62 286.44,744.28 287.37,743.94 288.31,743.58 289.26,743.23 290.21,742.86 291.16,742.49 292.12,742.12 293.09,741.73 294.06,741.34 295.03,740.95 296.01,740.55 296.99,740.14 297.97,739.73 298.96,739.31 299.96,738.88 300.96,738.45 301.96,738.01 302.97,737.56 303.98,737.11 305.00,736.65 306.02,736.19 307.05,735.71 308.08,735.23 309.11,734.75 310.15,734.25 311.20,733.75 312.24,733.25 313.30,732.74 314.35,732.21 315.41,731.69 316.48,731.15 317.55,730.61 318.62,730.06 319.70,729.51 320.78,728.95 321.86,728.38 322.95,727.80 324.05,727.22 325.15,726.63 326.25,726.03 327.36,725.42 328.47,724.81 329.58,724.19 330.70,723.57 331.82,722.93 332.95,722.29 334.08,721.64 335.22,720.99 336.36,720.32 337.50,719.65 338.65,718.97 339.80,718.29 340.95,717.59 342.11,716.89 343.28,716.19 344.44,715.47 345.62,714.75 346.79,714.02 347.97,713.28 349.15,712.54 350.34,711.78 351.53,711.02 352.73,710.26 353.93,709.48 355.13,708.70 356.34,707.91 357.55,707.11 358.76,706.31 359.98,705.50 361.20,704.68 362.43,703.85 363.66,703.01 364.89,702.17 366.13,701.32 367.37,700.47 368.62,699.60 369.87,698.73 371.12,697.85 372.38,696.96 373.64,696.07 374.90,695.17 376.17,694.26 377.45,693.34 378.72,692.42 380.00,691.49 381.28,690.55 382.57,689.60 383.86,688.65 385.16,687.69 386.46,686.72 387.76,685.75 389.06,684.77 390.37,683.78 391.69,682.78 393.00,681.78 394.32,680.77 395.65,679.75 396.98,678.73 398.31,677.70 399.64,676.66 400.98,675.61 402.32,674.56 403.67,673.50 405.02,672.43 406.37,671.36 407.73,670.28 409.09,669.20 410.45,668.10 411.82,667.00 413.19,665.90 414.57,664.78 415.95,663.66 417.33,662.54 418.72,661.40 420.10,660.26 421.50,659.12 422.89,657.97 424.29,656.81 425.70,655.64 427.10,654.47 428.51,653.29 429.93,652.11 431.35,650.92 432.77,649.73 434.19,648.52 435.62,647.32 437.05,646.10 438.49,644.88 439.92,643.66 441.37,642.43 442.81,641.19 444.26,639.95 445.71,638.70 447.17,637.45 448.63,636.19 450.09,634.92 451.56,633.65 453.02,632.38 454.50,631.10 455.97,629.81 457.45,628.52 458.94,627.22 460.42,625.92 461.91,624.61 463.41,623.30 464.90,621.99 466.40,620.66 467.91,619.34 469.41,618.01 470.92,616.67 472.44,615.33 473.95,613.99 475.47,612.64 477.00,611.28 478.52,609.93 480.06,608.56 481.59,607.20 483.13,605.83 484.67,604.45 486.21,603.07 487.76,601.69 489.31,600.31 490.86,598.91 492.42,597.52 493.98,596.12 495.54,594.72 497.11,593.32 498.68,591.91 500.25,590.50 501.83,589.08 503.41,587.66 504.99,586.24 506.58,584.81 508.16,583.38 509.76,581.95 511.35,580.52 512.95,579.08 514.55,577.64 516.16,576.20 517.77,574.75 519.38,573.30 521.00,571.85 522.62,570.40 524.24,568.94 525.86,567.48 527.49,566.02 529.12,564.56 530.76,563.10 532.39,561.63 534.03,560.16 535.68,558.69 537.33,557.21 538.98,555.74 540.63,554.26 542.29,552.78 543.95,551.30 545.61,549.82 547.28,548.34 548.95,546.85 550.62,545.37 552.29,543.88 553.97,542.39 555.65,540.90 557.34,539.41 559.03,537.92 560.72,536.42 562.41,534.93 564.11,533.43 565.81,531.94 567.52,530.44 569.22,528.94 570.93,527.45 572.65,525.95 574.36,524.45 576.08,522.95 577.80,521.45 579.53,519.95 581.26,518.45 582.99,516.95 584.72,515.45 586.46,513.95 588.20,512.44 589.94,510.94 591.69,509.44 593.44,507.94 595.19,506.44 596.95,504.94 598.71,503.44 600.47,501.94 602.24,500.44 604.00,498.95 605.78,497.45 607.55,495.95 609.33,494.45 611.11,492.96 612.89,491.46 614.68,489.97 616.47,488.48 618.26,486.98 620.05,485.49 621.85,484.00 623.65,482.51 625.46,481.03 627.26,479.54 629.07,478.05 630.89,476.57 632.70,475.09 634.52,473.61 636.34,472.13 638.17,470.65 640.00,469.17 641.83,467.69 643.66,466.22 645.50,464.75 647.34,463.28 649.18,461.81 651.03,460.34 652.87,458.88 654.73,457.42 656.58,455.95 658.44,454.50 660.30,453.04 662.16,451.58 664.03,450.13 665.90,448.68 667.77,447.23 669.64,445.79 671.52,444.34 673.40,442.90 675.29,441.46 677.17,440.03 679.06,438.59 680.95,437.16 682.85,435.73 684.75,434.30 686.65,432.88 688.55,431.46 690.46,430.04 692.37,428.62 694.28,427.21 696.20,425.80 698.11,424.39 700.04,422.99 701.96,421.58 703.89,420.18 705.82,418.79 707.75,417.39 709.68,416.00 711.62,414.62 713.56,413.23 715.51,411.85 717.45,410.47 719.40,409.10 721.36,407.72 723.31,406.36 725.27,404.99 727.23,403.63 729.19,402.27 731.16,400.91 733.13,399.56 735.10,398.21 737.08,396.86 739.06,395.52 741.04,394.18 743.02,392.84 745.01,391.51 746.99,390.18 748.99,388.86 750.98,387.54 752.98,386.22 754.98,384.90 756.98,383.59 758.99,382.28 761.00,380.98 763.01,379.68 765.02,378.38 767.04,377.09 769.06,375.80 771.08,374.51 773.11,373.23 775.13,371.95 777.16,370.67 779.20,369.40 781.23,368.13 783.27,366.87 785.31,365.61 787.36,364.35 789.41,363.10 791.46,361.85 793.51,360.60 795.56,359.36 797.62,358.13 799.68,356.89 801.75,355.66 803.81,354.44 805.88,353.21 807.95,352.00 810.03,350.78 812.11,349.57 814.19,348.36 816.27,347.16 818.35,345.96 820.44,344.77 822.53,343.58 824.63,342.39 826.72,341.21 828.82,340.03 830.92,338.85 833.03,337.68 835.13,336.51 837.24,335.35 839.36,334.19 841.47,333.04 843.59,331.88 845.71,330.74 847.83,329.59 849.96,328.45 852.09,327.32 854.22,326.19 856.35,325.06 858.49,323.94 860.63,322.82 862.77,321.70 864.91,320.59 867.06,319.48 869.21,318.38 871.36,317.28 873.52,316.18 875.68,315.09 877.84,314.00 880.00,312.92 882.17,311.84 884.33,310.76 886.51,309.69 888.68,308.62 890.86,307.56 893.03,306.50 895.22,305.45 897.40,304.39 899.59,303.35 901.78,302.30 903.97,301.26 906.16,300.23 908.36,299.19 910.56,298.17 912.76,297.14 914.97,296.12 917.18,295.11 919.39,294.09 921.60,293.09 923.81,292.08 926.03,291.08 928.25,290.08 930.48,289.09 932.70,288.10 934.93,287.12 937.16,286.14 939.40,285.16 941.63,284.19 943.87,283.22 946.11,282.25 948.36,281.29 950.60,280.33 952.85,279.38 955.11,278.43 957.36,277.48 959.62,276.54 961.88,275.60 964.14,274.67 966.40,273.74 968.67,272.81 970.94,271.89 973.21,270.97 975.49,270.05 977.76,269.14 980.04,268.23 982.33,267.33 984.61,266.43 986.90,265.53 989.19,264.63 991.48,263.75 993.78,262.86 996.08,261.98 998.38,261.10 1000.68,260.22 1002.99,259.35 1005.29,258.48 1007.60,257.62 1009.92,256.76 1012.23,255.90 1014.55,255.05 1016.87,254.20 1019.19,253.36 1021.52,252.51 1023.85,251.67 1026.18,250.84 1028.51,250.01 1030.85,249.18 1033.19,248.36 1035.53,247.53 1037.87,246.72 1040.22,245.90 1042.57,245.09 1044.92,244.29 1047.27,243.48 1049.63,242.68 1051.98,241.88 1054.34,241.09 1056.71,240.30 1059.07,239.52 1061.44,238.73 1063.81,237.95 1066.19,237.18 1068.56,236.40 1070.94,235.63 1073.32,234.87 1075.70,234.11 1078.09,233.35 1080.48,232.59 1082.87,231.84 1085.26,231.09 1087.66,230.34 1090.06,229.60 1092.46,228.86 1094.86,228.12 1097.27,227.39 1099.67,226.66 1102.08,225.93 1104.50,225.21 1106.91,224.49 1109.33,223.77 1111.75,223.06 1114.17,222.35 1116.60,221.64 1119.03,220.93 1121.46,220.23 1123.89,219.53 1126.32,218.84 1128.76,218.15 1131.20,217.46" fill="none" stroke="#92278f" stroke-width="5.6" stroke-linejoin="round" stroke-linecap="round"/>
<line x1="216.5" y1="280.5" x2="949" y2="280.5" stroke="#000" stroke-width="4.8" stroke-dasharray="22.9 23.1" stroke-dashoffset="12.33"/>
<line x1="216.5" y1="516.4" x2="582.6" y2="516.4" stroke="#000" stroke-width="4.8" stroke-dasharray="22.9 23.1" stroke-dashoffset="11.60"/>
<line x1="1004.3" y1="368.3" x2="1141.5" y2="368.3" stroke="#000" stroke-width="4.4" stroke-linecap="round"/>
<path d="M1025.2,334 C1026.2,327.5 1028.5,322.7 1034,322.7 L1055.3,322.7 L1055.3,328.8 L1044.6,328.8 L1044.6,349.5 C1044.6,353.5 1045.8,355 1047.5,355 C1049.5,355 1050.5,352.5 1051.2,349.8 L1053.3,350.4 C1052.5,356 1050,360 1044.5,360 C1039,360 1036.8,356 1036.8,350 L1036.8,328.8 L1034.5,328.8 C1030.5,328.8 1028,330.5 1026.8,334.3 Z" fill="#000"/>
<line x1="216.5" y1="1904.7" x2="1130.6" y2="1273.00" stroke="#000000" stroke-width="5.8" stroke-linecap="round"/>
<line x1="216.5" y1="1904.7" x2="1130.6" y2="1430.60" stroke="#ff0000" stroke-width="5.8" stroke-linecap="round"/>
<line x1="216.5" y1="1904.7" x2="1130.6" y2="1668.00" stroke="#006837" stroke-width="5.8" stroke-linecap="round"/>
<line x1="216.5" y1="1904.7" x2="1130.6" y2="1826.30" stroke="#0000ff" stroke-width="5.8" stroke-linecap="round"/>
<line x1="216.5" y1="1904.7" x2="1130.6" y2="1883.70" stroke="#92278f" stroke-width="5.8" stroke-linecap="round"/>
<line x1="216.5" y1="1904.7" x2="1130.5" y2="1196.0" stroke="#000" stroke-width="4.8" stroke-dasharray="23.2 23" stroke-dashoffset="11.6"/>
<line x1="216.5" y1="13.10" x2="216.5" y2="760.50" stroke="#000" stroke-width="6.2"/>
<line x1="216.50" y1="757.40" x2="1149.90" y2="757.40" stroke="#000" stroke-width="6.2" stroke-linecap="round"/>
<line x1="196.3" y1="48.10" x2="207.9" y2="48.10" stroke="#000" stroke-width="5.6" stroke-linecap="round"/>
<line x1="196.3" y1="119.80" x2="207.9" y2="119.80" stroke="#000" stroke-width="5.6" stroke-linecap="round"/>
<line x1="196.3" y1="188.90" x2="207.9" y2="188.90" stroke="#000" stroke-width="5.6" stroke-linecap="round"/>
<line x1="196.3" y1="260.50" x2="207.9" y2="260.50" stroke="#000" stroke-width="5.6" stroke-linecap="round"/>
<line x1="196.3" y1="332.30" x2="207.9" y2="332.30" stroke="#000" stroke-width="5.6" stroke-linecap="round"/>
<line x1="196.3" y1="404.00" x2="207.9" y2="404.00" stroke="#000" stroke-width="5.6" stroke-linecap="round"/>
<line x1="196.3" y1="472.90" x2="207.9" y2="472.90" stroke="#000" stroke-width="5.6" stroke-linecap="round"/>
<line x1="196.3" y1="544.70" x2="207.9" y2="544.70" stroke="#000" stroke-width="5.6" stroke-linecap="round"/>
<line x1="196.3" y1="616.40" x2="207.9" y2="616.40" stroke="#000" stroke-width="5.6" stroke-linecap="round"/>
<line x1="196.3" y1="685.70" x2="207.9" y2="685.70" stroke="#000" stroke-width="5.6" stroke-linecap="round"/>
<line x1="196.3" y1="757.40" x2="207.9" y2="757.40" stroke="#000" stroke-width="5.6" stroke-linecap="round"/>
<line x1="216.90" y1="766.50" x2="216.90" y2="777.30" stroke="#000" stroke-width="5.4" stroke-linecap="round"/>
<line x1="308.80" y1="766.50" x2="308.80" y2="777.30" stroke="#000" stroke-width="5.4" stroke-linecap="round"/>
<line x1="400.30" y1="766.50" x2="400.30" y2="777.30" stroke="#000" stroke-width="5.4" stroke-linecap="round"/>
<line x1="492.10" y1="766.50" x2="492.10" y2="777.30" stroke="#000" stroke-width="5.4" stroke-linecap="round"/>
<line x1="584.00" y1="766.50" x2="584.00" y2="777.30" stroke="#000" stroke-width="5.4" stroke-linecap="round"/>
<line x1="675.50" y1="766.50" x2="675.50" y2="777.30" stroke="#000" stroke-width="5.4" stroke-linecap="round"/>
<line x1="764.60" y1="766.50" x2="764.60" y2="777.30" stroke="#000" stroke-width="5.4" stroke-linecap="round"/>
<line x1="856.40" y1="766.50" x2="856.40" y2="777.30" stroke="#000" stroke-width="5.4" stroke-linecap="round"/>
<line x1="948.70" y1="766.50" x2="948.70" y2="777.30" stroke="#000" stroke-width="5.4" stroke-linecap="round"/>
<line x1="1040.20" y1="766.50" x2="1040.20" y2="777.30" stroke="#000" stroke-width="5.4" stroke-linecap="round"/>
<line x1="1132.10" y1="766.50" x2="1132.10" y2="777.30" stroke="#000" stroke-width="5.4" stroke-linecap="round"/>
<line x1="216.5" y1="1160.50" x2="216.5" y2="1907.90" stroke="#000" stroke-width="6.2"/>
<line x1="216.50" y1="1904.80" x2="1149.40" y2="1904.80" stroke="#000" stroke-width="6.2" stroke-linecap="round"/>
<line x1="194.2" y1="1196.00" x2="205.2" y2="1196.00" stroke="#000" stroke-width="5.6" stroke-linecap="round"/>
<line x1="194.2" y1="1267.80" x2="205.2" y2="1267.80" stroke="#000" stroke-width="5.6" stroke-linecap="round"/>
<line x1="194.2" y1="1336.50" x2="205.2" y2="1336.50" stroke="#000" stroke-width="5.6" stroke-linecap="round"/>
<line x1="194.2" y1="1408.60" x2="205.2" y2="1408.60" stroke="#000" stroke-width="5.6" stroke-linecap="round"/>
<line x1="194.2" y1="1479.50" x2="205.2" y2="1479.50" stroke="#000" stroke-width="5.6" stroke-linecap="round"/>
<line x1="194.2" y1="1550.20" x2="205.2" y2="1550.20" stroke="#000" stroke-width="5.6" stroke-linecap="round"/>
<line x1="194.2" y1="1620.60" x2="205.2" y2="1620.60" stroke="#000" stroke-width="5.6" stroke-linecap="round"/>
<line x1="194.2" y1="1692.90" x2="205.2" y2="1692.90" stroke="#000" stroke-width="5.6" stroke-linecap="round"/>
<line x1="194.2" y1="1764.10" x2="205.2" y2="1764.10" stroke="#000" stroke-width="5.6" stroke-linecap="round"/>
<line x1="194.2" y1="1833.20" x2="205.2" y2="1833.20" stroke="#000" stroke-width="5.6" stroke-linecap="round"/>
<line x1="194.2" y1="1904.60" x2="205.2" y2="1904.60" stroke="#000" stroke-width="5.6" stroke-linecap="round"/>
<line x1="214.00" y1="1914.0" x2="214.00" y2="1925.4" stroke="#000" stroke-width="5.4" stroke-linecap="round"/>
<line x1="305.80" y1="1914.0" x2="305.80" y2="1925.4" stroke="#000" stroke-width="5.4" stroke-linecap="round"/>
<line x1="397.70" y1="1914.0" x2="397.70" y2="1925.4" stroke="#000" stroke-width="5.4" stroke-linecap="round"/>
<line x1="489.60" y1="1914.0" x2="489.60" y2="1925.4" stroke="#000" stroke-width="5.4" stroke-linecap="round"/>
<line x1="581.90" y1="1914.0" x2="581.90" y2="1925.4" stroke="#000" stroke-width="5.4" stroke-linecap="round"/>
<line x1="673.40" y1="1914.0" x2="673.40" y2="1925.4" stroke="#000" stroke-width="5.4" stroke-linecap="round"/>
<line x1="762.50" y1="1914.0" x2="762.50" y2="1925.4" stroke="#000" stroke-width="5.4" stroke-linecap="round"/>
<line x1="854.80" y1="1914.0" x2="854.80" y2="1925.4" stroke="#000" stroke-width="5.4" stroke-linecap="round"/>
<line x1="946.60" y1="1914.0" x2="946.60" y2="1925.4" stroke="#000" stroke-width="5.4" stroke-linecap="round"/>
<line x1="1038.10" y1="1914.0" x2="1038.10" y2="1925.4" stroke="#000" stroke-width="5.4" stroke-linecap="round"/>
<line x1="1130.00" y1="1914.0" x2="1130.00" y2="1925.4" stroke="#000" stroke-width="5.4" stroke-linecap="round"/>
<text transform="translate(13.50,67.60) scale(0.7000,0.7044)" font-size="100" font-weight="bold" fill="#000" stroke="#000" stroke-width="0">A</text>
<text transform="translate(132.43,61.79) scale(0.6417,0.6056)" font-size="100" font-weight="normal" fill="#231f20" stroke="#231f20" stroke-width="1.1">0</text>
<text transform="translate(130.73,202.21) scale(0.6915,0.5930)" font-size="100" font-weight="normal" fill="#231f20" stroke="#231f20" stroke-width="1.1">8</text>
<text transform="translate(129.97,348.41) scale(0.7065,0.5915)" font-size="100" font-weight="normal" fill="#231f20" stroke="#231f20" stroke-width="1.1">6</text>
<text transform="translate(130.59,487.32) scale(0.6549,0.6162)" font-size="100" font-weight="normal" fill="#231f20" stroke="#231f20" stroke-width="1.1">4</text>
<text transform="translate(129.79,629.60) scale(0.7022,0.5971)" font-size="100" font-weight="normal" fill="#231f20" stroke="#231f20" stroke-width="1.1">2</text>
<text transform="translate(131.55,769.31) scale(0.6625,0.5944)" font-size="100" font-weight="normal" fill="#231f20" stroke="#231f20" stroke-width="1.1">0</text>
<text transform="translate(194.59,851.70) scale(0.7521,0.5986)" font-size="100" font-weight="normal" fill="#231f20" stroke="#231f20" stroke-width="1.1">0</text>
<text transform="translate(351.93,851.70) scale(0.6923,0.5986)" font-size="100" font-weight="normal" fill="#231f20" stroke="#231f20" stroke-width="1.1">0.2</text>
<text transform="translate(534.18,851.70) scale(0.6803,0.5986)" font-size="100" font-weight="normal" fill="#231f20" stroke="#231f20" stroke-width="1.1">0.4</text>
<text transform="translate(715.50,851.70) scale(0.7000,0.5986)" font-size="100" font-weight="normal" fill="#231f20" stroke="#231f20" stroke-width="1.1">0.6</text>
<text transform="translate(899.62,851.70) scale(0.6939,0.5986)" font-size="100" font-weight="normal" fill="#231f20" stroke="#231f20" stroke-width="1.1">0.8</text>
<text transform="translate(607.12,934.27) scale(0.8366,0.6968)" font-size="100" font-weight="normal" fill="#231f20" stroke="#231f20" stroke-width="1.1"><tspan font-style="italic">t</tspan> (s)</text>
<text transform="translate(65.91,452.94) rotate(-90) scale(0.7182,0.7083)" font-size="100" font-weight="normal" fill="#000" stroke="#000" stroke-width="1.1"><tspan font-style="italic">l</tspan></text>
<text transform="translate(55.58,430.66) rotate(-90) scale(0.6314,0.6171)" font-size="100" font-weight="normal" fill="#000" stroke="#000" stroke-width="1.1">*</text>
<text transform="translate(64.49,391.29) rotate(-90) scale(0.7144,0.7053)" font-size="100" font-weight="normal" fill="#000" stroke="#000" stroke-width="1.1">(cm)</text>
<text transform="translate(1057.67,358.80) scale(0.5385,0.5713)" font-size="100" font-weight="normal" fill="#000" stroke="#000" stroke-width="0.5">(</text>
<text transform="translate(1109.66,358.80) scale(0.5385,0.5713)" font-size="100" font-weight="normal" fill="#000" stroke="#000" stroke-width="0.5">)</text>
<text transform="translate(1076.64,359.23) scale(0.5860,0.5673)" font-size="100" font-weight="normal" fill="#000" stroke="#000" stroke-width="2.6">s</text>
<text transform="translate(1005.43,436.90) scale(0.5913,0.6042)" font-size="100" font-weight="normal" fill="#000" stroke="#000" stroke-width="1.1">0.025</text>
<text transform="translate(1038.74,507.30) scale(0.5903,0.6042)" font-size="100" font-weight="normal" fill="#ff0000" stroke="#ff0000" stroke-width="1.1">0.05</text>
<text transform="translate(1071.33,577.20) scale(0.5914,0.6014)" font-size="100" font-weight="normal" fill="#006837" stroke="#006837" stroke-width="1.1">0.</text>
<text transform="translate(1070.83,647.10) scale(0.5923,0.5958)" font-size="100" font-weight="normal" fill="#0000ff" stroke="#0000ff" stroke-width="1.1">0.2</text>
<text transform="translate(1070.87,717.30) scale(0.5833,0.5958)" font-size="100" font-weight="normal" fill="#92278f" stroke="#92278f" stroke-width="1.1">0.4</text>
<text transform="translate(15.01,1209.70) scale(0.6705,0.7014)" font-size="100" font-weight="bold" fill="#000" stroke="#000" stroke-width="0">B</text>
<text transform="translate(131.68,1208.80) scale(0.6562,0.5958)" font-size="100" font-weight="normal" fill="#231f20" stroke="#231f20" stroke-width="1.1">0</text>
<text transform="translate(130.71,1349.72) scale(0.6979,0.5817)" font-size="100" font-weight="normal" fill="#231f20" stroke="#231f20" stroke-width="1.1">8</text>
<text transform="translate(129.97,1495.02) scale(0.7065,0.5803)" font-size="100" font-weight="normal" fill="#231f20" stroke="#231f20" stroke-width="1.1">6</text>
<text transform="translate(130.36,1634.71) scale(0.6686,0.6074)" font-size="100" font-weight="normal" fill="#231f20" stroke="#231f20" stroke-width="1.1">4</text>
<text transform="translate(129.79,1777.20) scale(0.7022,0.5971)" font-size="100" font-weight="normal" fill="#231f20" stroke="#231f20" stroke-width="1.1">2</text>
<text transform="translate(131.55,1917.01) scale(0.6625,0.5944)" font-size="100" font-weight="normal" fill="#231f20" stroke="#231f20" stroke-width="1.1">0</text>
<text transform="translate(1130.02,1999.30) scale(0.7458,0.6014)" font-size="100" font-weight="normal" fill="#231f20" stroke="#231f20" stroke-width="1.1">0</text>
<text transform="translate(194.77,1999.61) scale(0.7583,0.5873)" font-size="100" font-weight="normal" fill="#231f20" stroke="#231f20" stroke-width="1.1">0</text>
<text transform="translate(375.32,2000.20) scale(0.7370,0.5957)" font-size="100" font-weight="normal" fill="#231f20" stroke="#231f20" stroke-width="1.1">2</text>
<text transform="translate(559.59,2000.81) scale(0.7059,0.6132)" font-size="100" font-weight="normal" fill="#231f20" stroke="#231f20" stroke-width="1.1">4</text>
<text transform="translate(740.28,1999.61) scale(0.7435,0.5873)" font-size="100" font-weight="normal" fill="#231f20" stroke="#231f20" stroke-width="1.1">6</text>
<text transform="translate(925.26,1999.61) scale(0.7106,0.5873)" font-size="100" font-weight="normal" fill="#231f20" stroke="#231f20" stroke-width="1.1">8</text>
<text transform="translate(554.87,2081.79) scale(0.8636,0.6917)" font-size="100" font-weight="normal" fill="#231f20" stroke="#231f20" stroke-width="1.1"><tspan font-style="italic">l</tspan></text>
<text transform="translate(573.45,2104.80) scale(0.4766,0.3944) rotate(0.01)" font-size="100" font-weight="normal" fill="#231f20" stroke="#231f20" stroke-width="1.1"><tspan font-style="italic">m</tspan></text>
<text transform="translate(635.81,2081.93) scale(0.8319,0.6936)" font-size="100" font-weight="normal" fill="#231f20" stroke="#231f20" stroke-width="1.1">(cm)</text>
<text transform="translate(65.91,1600.25) rotate(-90) scale(0.7273,0.7083)" font-size="100" font-weight="normal" fill="#000" stroke="#000" stroke-width="1.1"><tspan font-style="italic">l</tspan></text>
<text transform="translate(55.58,1577.77) rotate(-90) scale(0.6371,0.6171)" font-size="100" font-weight="normal" fill="#000" stroke="#000" stroke-width="1.1">*</text>
<text transform="translate(64.49,1538.28) rotate(-90) scale(0.7138,0.7053)" font-size="100" font-weight="normal" fill="#000" stroke="#000" stroke-width="1.1">(cm)</text>
<path transform="translate(101.10,19.70) scale(0.1760,0.4200)" d="M100,0 L100,100 L67,100 L67,24 C50,28 25,33 1,36 L0,26 C30,19 60,11 79,0 Z" fill="#231f20"/>
<path transform="translate(1118.30,810.20) scale(0.2060,0.4170)" d="M100,0 L100,100 L67,100 L67,24 C50,28 25,33 1,36 L0,26 C30,19 60,11 79,0 Z" fill="#231f20"/>
<path transform="translate(1125.90,535.40) scale(0.1630,0.4170)" d="M100,0 L100,100 L67,100 L67,24 C50,28 25,33 1,36 L0,26 C30,19 60,11 79,0 Z" fill="#006837"/>
<path transform="translate(101.10,1167.10) scale(0.1760,0.4160)" d="M100,0 L100,100 L67,100 L67,24 C50,28 25,33 1,36 L0,26 C30,19 60,11 79,0 Z" fill="#231f20"/>
<path transform="translate(1094.90,1957.20) scale(0.2060,0.4200)" d="M100,0 L100,100 L67,100 L67,24 C50,28 25,33 1,36 L0,26 C30,19 60,11 79,0 Z" fill="#231f20"/>
</svg></body></html>
